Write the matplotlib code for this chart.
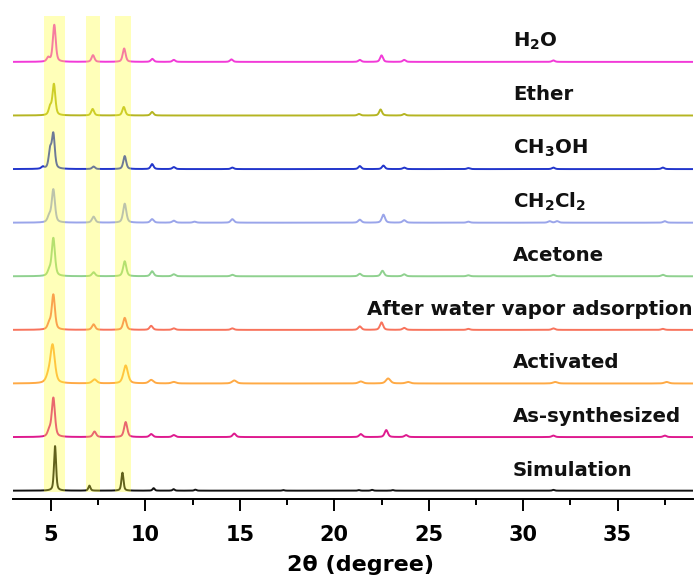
import numpy as np
import matplotlib
matplotlib.use("Agg")
import matplotlib.pyplot as plt

# Sample names, bottom to top
labels = ["Simulation", "As-synthesized", "Activated", "After water vapor adsorption",
          "Acetone", r"CH$_\mathbf{2}$Cl$_\mathbf{2}$", r"CH$_\mathbf{3}$OH", "Ether",
          r"H$_\mathbf{2}$O"]
colors = ["#111111", "#DE1A8E", "#FFAA45", "#F8735C", "#8FD18F",
          "#9AA5EA", "#2236CC", "#B5B522", "#F23AD8"]

# Reflection positions (2θ, degree), intensities (a.u.) and peak widths (FWHM, degree)
sim_pos = [5.21, 7.03, 8.78, 10.43, 11.49, 12.64, 17.30, 21.30, 22.00, 23.10, 31.60]
sim_int = [44.7, 5.0, 18.0, 2.5, 1.5, 1.0, 0.6, 0.6, 0.8, 0.6, 0.8]
sim_fwhm = 0.13

assyn_pos = [4.90, 5.12, 7.30, 8.95, 10.30, 11.50, 14.70, 21.40, 22.75, 23.80, 31.60, 37.50]
assyn_int = [6.0, 39.0, 5.5, 15.0, 3.0, 2.0, 3.5, 3.0, 7.0, 2.0, 1.5, 1.5]
assyn_fwhm = 0.20

act_pos = [4.85, 5.08, 7.30, 8.95, 10.30, 11.50, 14.70, 21.40, 22.85, 23.90, 31.70, 37.60]
act_int = [6.0, 38.0, 4.0, 18.0, 3.5, 1.5, 3.0, 2.0, 5.0, 1.5, 1.5, 1.5]
act_fwhm = 0.28

water_pos = [4.90, 5.12, 7.25, 8.90, 10.30, 11.50, 14.60, 21.35, 22.50, 23.70, 27.10, 31.60, 37.40]
water_int = [6.0, 35.0, 5.5, 12.0, 4.0, 1.5, 1.5, 3.5, 7.5, 2.0, 1.0, 1.5, 1.0]
water_fwhm = 0.20

acet_pos = [4.90, 5.12, 7.25, 8.90, 10.35, 11.50, 14.60, 21.35, 22.55, 23.70, 27.10, 31.60, 37.40]
acet_int = [5.0, 38.0, 4.0, 15.0, 5.0, 2.0, 1.5, 2.5, 5.5, 2.0, 1.0, 1.5, 1.5]
acet_fwhm = 0.20

dcm_pos = [4.90, 5.12, 7.25, 8.90, 10.35, 11.50, 12.60, 14.60, 21.35, 22.60, 23.70, 27.10, 31.40, 31.80, 37.50]
dcm_int = [6.0, 33.0, 6.0, 19.0, 3.5, 2.0, 1.0, 3.5, 3.0, 8.0, 2.5, 1.0, 1.5, 1.5, 1.5]
dcm_fwhm = 0.20

meoh_pos = [4.56, 4.95, 5.12, 7.25, 8.90, 10.35, 11.50, 14.60, 21.35, 22.60, 23.70, 27.10, 31.60, 37.40]
meoh_int = [2.0, 18.0, 34.0, 2.5, 13.0, 5.0, 2.0, 1.5, 3.0, 3.5, 1.5, 1.0, 1.5, 1.5]
meoh_fwhm = 0.18

ether_pos = [4.95, 5.15, 7.20, 8.85, 10.35, 21.30, 22.45, 23.70]
ether_int = [8.0, 31.0, 6.5, 8.5, 3.5, 1.5, 6.0, 1.5]
ether_fwhm = 0.18

h2o_pos = [4.85, 5.17, 7.22, 8.87, 10.36, 11.50, 14.55, 21.35, 22.50, 23.70, 31.60]
h2o_int = [4.0, 37.0, 6.7, 13.4, 3.0, 2.0, 2.5, 2.0, 6.5, 2.0, 1.5]
h2o_fwhm = 0.18

patterns = [(sim_pos, sim_int, sim_fwhm), (assyn_pos, assyn_int, assyn_fwhm),
            (act_pos, act_int, act_fwhm), (water_pos, water_int, water_fwhm),
            (acet_pos, acet_int, acet_fwhm), (dcm_pos, dcm_int, dcm_fwhm),
            (meoh_pos, meoh_int, meoh_fwhm), (ether_pos, ether_int, ether_fwhm),
            (h2o_pos, h2o_int, h2o_fwhm)]

# Highlighted reflection regions (2θ ranges)
band_lo = [4.64, 6.84, 8.41]
band_hi = [5.74, 7.58, 9.24]

step = 53.6  # vertical offset between stacked patterns

two_theta = np.linspace(3, 39, 4000)


def profile(x, pos, inten, fwhm):
    """Pseudo-Voigt sum of reflections."""
    y = np.zeros_like(x)
    g = fwhm / 2.0
    for p, h in zip(pos, inten):
        lor = 1.0 / (1.0 + ((x - p) / g) ** 2)
        gau = np.exp(-np.log(2) * ((x - p) / g) ** 2)
        y += h * (0.5 * lor + 0.5 * gau)
    return y


plt.rcParams["font.family"] = ["DejaVu Sans"]
plt.rcParams["font.weight"] = "bold"
plt.rcParams["mathtext.fontset"] = "dejavusans"
plt.rcParams["mathtext.default"] = "bf"

fig = plt.figure(figsize=(6.97, 5.88), dpi=100)
ax = fig.add_axes([0.0191, 0.1509, 0.9753, 0.8219])

for i, ((pos, inten, fw), lab, col) in enumerate(zip(patterns, labels, colors)):
    base = i * step
    ax.plot(two_theta, base + profile(two_theta, pos, inten, fw), color=col, lw=1.4, zorder=2)
    if lab.startswith("After"):
        ax.text(38.97, base + 15, lab, ha="right", va="baseline",
                fontsize=14.2, fontweight="bold", color="#111111")
    else:
        ax.text(29.45, base + 15, lab, ha="left", va="baseline",
                fontsize=14.2, fontweight="bold", color="#111111")

ax.set_xlim(3, 39)
ax.set_ylim(-8.6, 474.7)
ymin_frac = (-1 + 8.6) / (474.7 + 8.6)
for lo, hi in zip(band_lo, band_hi):
    ax.axvspan(lo, hi, ymin=ymin_frac, ymax=1, facecolor="#FFFF33", alpha=0.34,
               lw=0, zorder=3)

for s in ["left", "right", "top"]:
    ax.spines[s].set_visible(False)
ax.spines["bottom"].set_linewidth(1.4)
ax.set_yticks([])
ax.set_xticks([5, 10, 15, 20, 25, 30, 35])
ax.set_xticks(np.arange(7.5, 39, 5), minor=True)
ax.tick_params(axis="x", which="major", direction="out", length=8.5, width=1.4,
               labelsize=15, pad=10)
ax.tick_params(axis="x", which="minor", direction="out", length=4.5, width=1.4)
for t in ax.get_xticklabels():
    t.set_fontweight("bold")
ax.set_xlabel("2θ (degree)", fontsize=16, fontweight="bold", labelpad=12)
ax.xaxis.set_label_coords(0.51, -0.115)

fig.savefig("out.png", dpi=100)
